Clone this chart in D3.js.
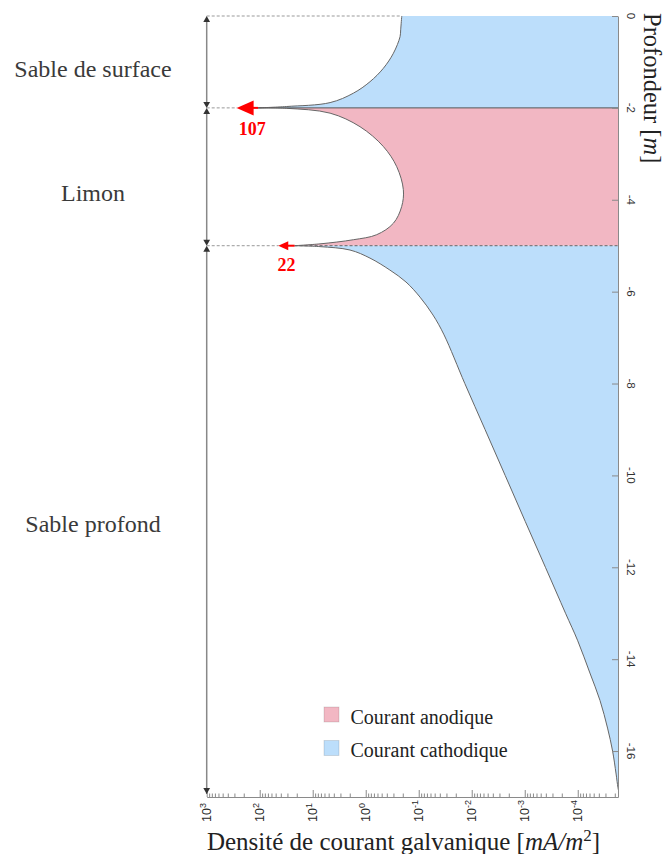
<!DOCTYPE html>
<html><head><meta charset="utf-8">
<script src="https://cdn.jsdelivr.net/npm/d3@7"></script>
<style>body{margin:0;background:#fff}svg{display:block}</style>
</head><body><svg id="c" width="668" height="854"></svg>
<script>
// ---------- data ----------
const layerNames = ["Sable de surface", "Limon", "Sable profond"];
const layerTop = [0, -2, -5];
const layerBottom = [-2, -5, -17];
const layerLabelDepth = [-1.15, -3.85, -11.05];

const surfaceDepth   = [0, -0.3, -0.45, -0.81, -1.14, -1.43, -1.68, -1.885, -1.97, -2];
const surfaceCurrent = [0.209, 0.219, 0.225, 0.30, 0.466, 0.83, 1.71, 4.7, 31, 107];

const limonDepth   = [-2, -2.01, -2.115, -2.41, -2.84, -3.28, -3.78, -4.15, -4.51, -4.76, -4.87, -4.96, -5];
const limonCurrent = [107, 31, 4.7, 1.28, 0.466, 0.26, 0.195, 0.21, 0.30, 0.62, 1.71, 7.3, 22];

const deepDepth   = [-5, -5.02, -5.094, -5.27, -5.53, -5.79, -6.12, -6.51, -6.94, -8, -9, -10, -11, -12, -13, -13.6, -14.3, -14.9, -15.5, -16, -16.5, -16.8, -17];
const deepCurrent = [22, 7.3, 1.98, 0.83, 0.35, 0.174, 0.0944, 0.0537, 0.0333, 0.0135, 0.00561, 0.00234, 9.8e-4, 4.07e-4, 1.70e-4, 1.0e-4, 5.9e-5, 3.8e-5, 2.74e-5, 2.2e-5, 1.89e-5, 1.74e-5, 1.6e-5];

const peakDepth = [-2, -5];
const peakValue = [107, 22];

const xTickExp = [3, 2, 1, 0, -1, -2, -3, -4];
const yTicks = [0, -2, -4, -6, -8, -10, -12, -14, -16];
const legendLabels = ["Courant anodique", "Courant cathodique"];
const xDomain = [1e3, 1.74e-5];
const yDomain = [0, -17];

// ---------- styles ----------
const BLUE = "#bcdefb", PINK = "#f2b7c3";
const SERIF = "'Liberation Serif', 'Times New Roman', serif";
const SANS = "'Liberation Sans', Arial, sans-serif";

const svg = d3.select("#c");
const L = 206.7, R = 618, T = 16, B = 797;
const x = d3.scaleLog().domain(xDomain).range([L, R]);
const y = d3.scaleLinear().domain(yDomain).range([T, B]);

svg.append("defs").append("clipPath").attr("id", "clip")
  .append("rect").attr("x", L).attr("y", 0).attr("width", R - L).attr("height", B);

const plot = svg.append("g").attr("clip-path", "url(#clip)");
const curve = d3.curveCatmullRom.alpha(0.5);

function band(depths, values, fill) {
  const pts = depths.map((d, i) => ({ d, v: values[i] }));
  const area = d3.area().curve(curve)
    .y(p => y(p.d)).x0(R).x1(p => x(p.v));
  const line = d3.line().curve(curve)
    .y(p => y(p.d)).x(p => x(p.v));
  plot.append("path").attr("d", area(pts)).attr("fill", fill);
  plot.append("path").attr("d", line(pts)).attr("fill", "none")
    .attr("stroke", "#666").attr("stroke-width", 1);
}
band(surfaceDepth, surfaceCurrent, BLUE);
band(limonDepth, limonCurrent, PINK);
band(deepDepth, deepCurrent, BLUE);

// boundaries inside the plot
plot.append("line").attr("x1", x(peakValue[0])).attr("x2", R)
  .attr("y1", y(-2)).attr("y2", y(-2)).attr("stroke", "#555").attr("stroke-width", 1);
plot.append("line").attr("x1", x(peakValue[1])).attr("x2", R)
  .attr("y1", y(-5)).attr("y2", y(-5)).attr("stroke", "#666").attr("stroke-width", 1)
  .attr("stroke-dasharray", "3,2");

// dashed guide lines on the left
const guideEnds = [x(surfaceCurrent[0]), x(peakValue[0]) - 21, x(peakValue[1]) - 16];
layerTop.forEach((d, i) => {
  svg.append("line").attr("x1", L).attr("x2", guideEnds[i])
    .attr("y1", y(d)).attr("y2", y(d))
    .attr("stroke", "#999").attr("stroke-width", 1).attr("stroke-dasharray", "3,2");
});

// ---------- axes ----------
const axisColor = "#8a8a8a";
const yAxis = svg.append("g").attr("transform", `translate(${R},0)`)
  .call(d3.axisRight(y).tickValues(yTicks).tickSize(-6).tickSizeOuter(0).tickFormat(""));
yAxis.selectAll("path,line").attr("stroke", axisColor);

yTicks.forEach(v => {
  svg.append("text").attr("transform", `translate(627,${y(v)}) rotate(90)`)
    .attr("text-anchor", "middle").attr("font-family", SANS).attr("font-size", 11.5)
    .attr("fill", "#333").text(String(v));
});

const majors = xTickExp.map(e => Math.pow(10, e));
const minors = [];
for (let e = 2; e >= -5; e--) for (let k = 2; k <= 9; k++) {
  const v = k * Math.pow(10, e);
  if (v <= xDomain[0] && v >= xDomain[1]) minors.push(v);
}
const xAxis = svg.append("g").attr("transform", `translate(0,${B})`)
  .call(d3.axisBottom(x).tickValues(majors).tickSize(-7).tickSizeOuter(0).tickFormat(""));
xAxis.selectAll("path,line").attr("stroke", axisColor);
const xMinor = svg.append("g").attr("transform", `translate(0,${B})`)
  .call(d3.axisBottom(x).tickValues(minors).tickSize(-3.5).tickSizeOuter(0).tickFormat(""));
xMinor.select("path").remove();
xMinor.selectAll("line").attr("stroke", axisColor);

xTickExp.forEach(e => {
  const t = svg.append("text")
    .attr("transform", `translate(${x(Math.pow(10, e))},822) rotate(-90)`)
    .attr("dy", "0.36em").attr("font-family", SANS).attr("font-size", 12.5).attr("fill", "#2a2a2a");
  t.append("tspan").text("10");
  t.append("tspan").attr("dy", -5).attr("font-size", 9).text(String(e));
});

// axis titles
const xt = svg.append("text").attr("x", 403.5).attr("y", 850).attr("text-anchor", "middle")
  .attr("font-family", SERIF).attr("font-size", 25).attr("fill", "#222");
xt.append("tspan").text("Densité de courant galvanique [");
xt.append("tspan").attr("font-style", "italic").text("mA/m");
xt.append("tspan").attr("dy", -9).attr("font-size", 17).text("2");
xt.append("tspan").attr("dy", 9).text("]");

const yt = svg.append("text").attr("transform", "translate(644,13) rotate(90)")
  .attr("font-family", SERIF).attr("font-size", 24.5).attr("fill", "#222");
yt.append("tspan").text("Profondeur [");
yt.append("tspan").attr("font-style", "italic").text("m");
yt.append("tspan").text("]");

// ---------- layer annotations ----------
layerNames.forEach((n, i) => {
  const y0 = y(layerTop[i]), y1 = y(layerBottom[i]);
  svg.append("line").attr("x1", L).attr("x2", L).attr("y1", y0 + 3).attr("y2", y1 - 3)
    .attr("stroke", "#888").attr("stroke-width", 1.5);
  svg.append("path").attr("d", `M${L},${y0}L${L - 3.4},${y0 + 6}L${L + 3.4},${y0 + 6}Z`).attr("fill", "#333");
  const yb = i === 2 ? y1 - 3 : y1;
  svg.append("path").attr("d", `M${L},${yb}L${L - 3.4},${yb - 6}L${L + 3.4},${yb - 6}Z`).attr("fill", "#333");
  svg.append("text").attr("x", 93).attr("y", y(layerLabelDepth[i]) + 8)
    .attr("text-anchor", "middle").attr("font-family", SERIF).attr("font-size", 24)
    .attr("fill", "#3a3a3a").text(n);
});

// ---------- red peak arrows ----------
const arrowLen = [21.5, 16.3], headLen = [17, 10], headHalf = [7.5, 4.5];
const labelDx = [-6, -8], labelDy = [27, 25];
peakDepth.forEach((d, i) => {
  const x0 = x(peakValue[i]), yy = y(d), tip = x0 - arrowLen[i];
  svg.append("line").attr("x1", x0).attr("x2", tip + headLen[i] - 1)
    .attr("y1", yy).attr("y2", yy).attr("stroke", "#ff0000").attr("stroke-width", 2);
  svg.append("path")
    .attr("d", `M${tip},${yy}L${tip + headLen[i]},${yy - headHalf[i]}L${tip + headLen[i]},${yy + headHalf[i]}Z`)
    .attr("fill", "#ff0000");
  svg.append("text").attr("x", x0 + labelDx[i]).attr("y", yy + labelDy[i])
    .attr("text-anchor", "middle").attr("font-family", SERIF).attr("font-weight", "bold")
    .attr("font-size", 18).attr("fill", "#ff0000").text(String(peakValue[i]));
});

// ---------- legend ----------
const legendFill = [PINK, BLUE];
legendLabels.forEach((lab, i) => {
  const ly = 707 + i * 33.5;
  svg.append("rect").attr("x", 324).attr("y", ly).attr("width", 15).attr("height", 15)
    .attr("fill", legendFill[i]).attr("stroke", "rgba(0,0,0,0.15)").attr("stroke-width", 0.8);
  svg.append("text").attr("x", 350.5).attr("y", ly + 16.5)
    .attr("font-family", SERIF).attr("font-size", 20).attr("fill", "#222").text(lab);
});
</script></body></html>
